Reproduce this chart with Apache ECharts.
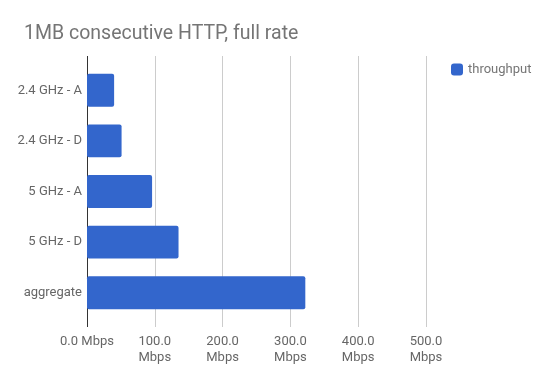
<!DOCTYPE html>
<html>
<head>
<meta charset="utf-8">
<script src="https://cdn.jsdelivr.net/npm/echarts@6/dist/echarts.min.js"></script>
<style>html,body{margin:0;padding:0;background:#fff}#c{width:550px;height:384px}</style>
</head>
<body>
<div id="c"></div>
<script>
var categories = ["2.4 GHz - A", "2.4 GHz - D", "5 GHz - A", "5 GHz - D", "aggregate"];
var throughput = [40, 51, 96, 135, 322];
var tickValues = [0, 100, 200, 300, 400, 500];
var tickLabels = ["0.0 Mbps", "100.0\nMbps", "200.0\nMbps", "300.0\nMbps", "400.0\nMbps", "500.0\nMbps"];

var chart = echarts.init(document.getElementById('c'), null, {renderer: 'canvas'});
var font = 'Roboto, "Noto Sans", sans-serif';
chart.setOption({
  animation: false,
  textStyle: {fontFamily: font},
  title: {
    text: '1MB consecutive HTTP, full rate',
    left: 19, top: 19,
    textStyle: {fontFamily: font, fontSize: 19.5, fontWeight: 'normal', color: '#757575'}
  },
  legend: {
    left: 446, top: 58,
    itemWidth: 12, itemHeight: 12, itemGap: 8,
    icon: 'roundRect',
    textStyle: {fontFamily: font, fontSize: 13, color: '#757575'},
    data: ['throughput']
  },
  grid: [
    {left: 87, right: 124, top: 56, bottom: 57, containLabel: false},
    {left: 87, right: 124, top: 65, bottom: 66, containLabel: false}
  ],
  xAxis: [
    {
      gridIndex: 0, type: 'value', min: tickValues[0], max: tickValues[tickValues.length - 1], interval: 100,
      axisLine: {show: false}, axisTick: {show: false},
      splitLine: {show: true, lineStyle: {color: ['#333333', '#cccccc', '#cccccc', '#cccccc', '#cccccc', '#cccccc'], width: 1}},
      axisLabel: {
        margin: 7, color: '#666', fontSize: 13, fontFamily: font, lineHeight: 15.5,
        formatter: function (v) { var i = tickValues.indexOf(v); return i >= 0 ? tickLabels[i] : ''; }
      }
    },
    {
      gridIndex: 1, type: 'value', min: tickValues[0], max: tickValues[tickValues.length - 1], interval: 100,
      show: false, splitLine: {show: false}
    }
  ],
  yAxis: [
    {gridIndex: 0, type: 'category', data: categories, show: false},
    {
      gridIndex: 1, type: 'category', data: categories, inverse: true,
      axisLine: {show: false}, axisTick: {show: false}, splitLine: {show: false},
      axisLabel: {margin: 5, color: '#666', fontSize: 13, fontFamily: font}
    }
  ],
  series: [{
    name: 'throughput', type: 'bar', xAxisIndex: 1, yAxisIndex: 1,
    data: throughput, barCategoryGap: '35%',
    itemStyle: {color: '#3366cc', borderRadius: 2}
  }]
});
</script>
</body>
</html>
